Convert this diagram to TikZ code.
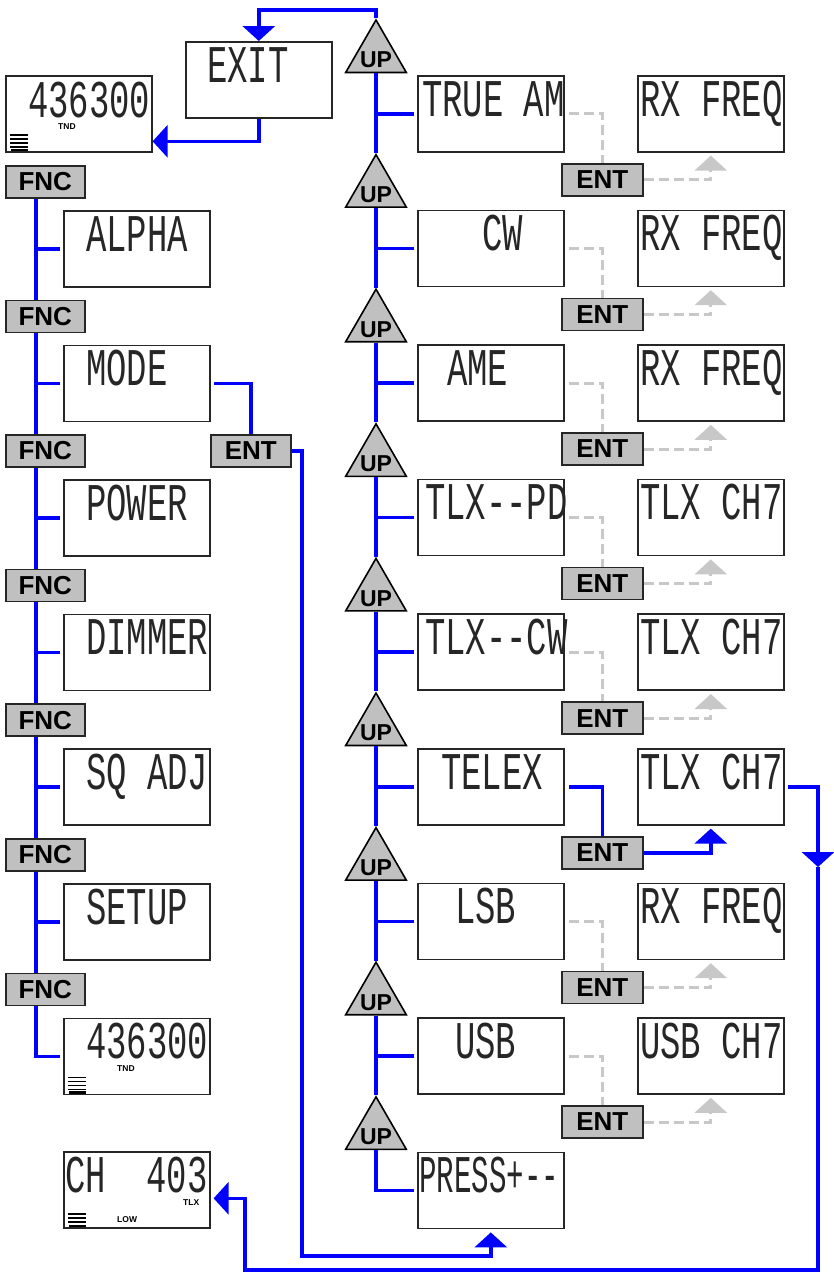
\documentclass[tikz,border=0pt]{standalone}
\usepackage{fontspec}
\usetikzlibrary{arrows.meta,shapes.geometric}
\setmainfont{Liberation Sans}
\newfontfamily\lcdfont[FakeStretch=0.64]{Liberation Mono}
\newfontfamily\lcdnarrow[FakeStretch=0.55]{Liberation Mono}
\definecolor{btn}{RGB}{192,192,192}
\definecolor{ghost}{RGB}{200,200,200}
\definecolor{flowblue}{RGB}{0,0,255}
\begin{document}
\begin{tikzpicture}[x=1pt,y=-1pt,
 disp/.style={draw=black!85, line width=1.6pt, minimum width=146pt, minimum height=76pt, inner sep=0pt, anchor=north west},
 btnbox/.style={draw=black!85, fill=btn, line width=1.6pt, minimum width=79pt, minimum height=32pt, inner sep=0pt, anchor=north west, font=\bfseries\fontsize{26}{26}\selectfont},
 upbtn/.style={regular polygon, regular polygon sides=3, draw=black, fill=btn, line width=1.6pt, minimum size=70pt, inner sep=0pt,
   label={[font=\bfseries\fontsize{23}{23}\selectfont, yshift=-5pt]center:UP}},
 lcd/.style={anchor=base west, inner sep=0pt, font=\lcdfont\fontsize{53}{53}\selectfont, text=black!85},
 lcdn/.style={anchor=base west, inner sep=0pt, font=\lcdnarrow\fontsize{53}{53}\selectfont, text=black!85},
 tinylbl/.style={anchor=base west, inner sep=0pt, font=\bfseries\fontsize{8.5}{8.5}\selectfont},
 flow/.style={draw=flowblue, line width=3.5pt},
 ghostline/.style={draw=ghost, line width=3pt, dash pattern=on 10pt off 5pt},
 tip/.style={-{Triangle[width=32pt,length=15pt]}},
 icon/.style={line width=1.1pt},
 iconbar/.style={line width=2.6pt},
]
\useasboundingbox (0,0) rectangle (834,1275);

% ---------- top area ----------
\node[disp] (dTop) at (5,75) {};
\node[lcd] (tTop) at (28,117) {436300};
\node[tinylbl] (tndTop) at (58,129.5) {TND};
\draw[icon] (10,135) -- (28,135) (10,139) -- (28,139) (10,143) -- (28,143) (10,147) -- (28,147);
\draw[iconbar] (11,150) -- (28,150);

\node[disp] (exit) at (185,41) {};
\node[lcd] (tExit) at (207,82) {EXIT};

% ---------- left column ----------
\foreach \i/\txt in {0/ALPHA,1/MODE,2/POWER,3/DIMMER,4/SQ ADJ,5/SETUP}{
  \node[btnbox] (fnc\i) at (5,{165+134.6*\i}) {FNC};
  \node[disp] (dL\i) at (63,{210+134.6*\i}) {};
  \node[lcd] (tL\i) at (86,{251+134.6*\i}) {\txt};
}
\node[btnbox] (fnc6) at (5,972.6) {FNC};
\node[disp] (dL6) at (63,1017.6) {};
\node[lcd] (tL6) at (86,1058.6) {436300};
\node[tinylbl] (tndL6) at (117,1071.5) {TND};
\draw[icon] (68,1077.5) -- (86,1077.5) (68,1081.5) -- (86,1081.5) (68,1085.5) -- (86,1085.5) (68,1089.5) -- (86,1089.5);
\draw[iconbar] (69,1092.5) -- (86,1092.5);

\node[btnbox, minimum width=80pt] (entL) at (210,434) {ENT};

\node[disp] (ch) at (63,1151) {};
\node[lcd] (tCh) at (65,1192) {CH~~403};
\node[tinylbl] (tlxCh) at (183,1205) {TLX};
\node[tinylbl] (lowCh) at (117,1222) {LOW};
\draw[icon] (68,1214) -- (86,1214) (68,1218) -- (86,1218) (68,1222) -- (86,1222);
\draw[iconbar] (69,1226) -- (86,1226);

% ---------- right column ----------
\foreach \j in {0,...,8}{
  \node[upbtn] (up\j) at (376,{55+134.6*\j}) {};
  \node[disp] (dR\j) at (417,{75+134.6*\j}) {};
}
\foreach \j/\x/\txt in {0/422/TRUE AM,1/482/CW,2/447/AME,3/425/TLX-{}-PD,4/425/TLX-{}-CW,5/441/TELEX,6/455/LSB,7/455/USB}{
  \node[lcd] (tR\j) at (\x,{116+134.6*\j}) {\txt};
}
\node[lcdn] (tR8) at (419,1192.8) {PRESS+-{}-};

\foreach \j/\txt in {0/RX FREQ,1/RX FREQ,2/RX FREQ,3/TLX CH7,4/TLX CH7,5/TLX CH7,6/RX FREQ,7/USB CH7}{
  \node[disp] (rr\j) at (637,{75+134.6*\j}) {};
  \node[lcd] (tRR\j) at (640,{116+134.6*\j}) {\txt};
  \node[btnbox, minimum width=81pt] (ent\j) at (561,{163+134.6*\j}) {ENT};
}

% ---------- connectors ----------
\coordinate (topY) at (0,10);
\draw[flow,tip] (up0.north) -- (up0.north |- topY) -| (exit.north);
\draw[flow,tip,shorten >=0pt] (exit.south) |- ([yshift=-27.5pt]dTop.east);

\coordinate (sL) at (36,0);
\foreach \i [evaluate=\i as \n using int(\i+1)] in {0,...,5}{
  \draw[flow] (fnc\i.south -| sL) -- (fnc\n.north -| sL);
  \draw[flow] (dL\i.west -| sL) -- ([xshift=-3pt]dL\i.west);
}
\draw[flow] (fnc6.south -| sL) |- ([xshift=-3pt]dL6.west);

\foreach \j [evaluate=\j as \n using int(\j+1)] in {0,...,7}{
  \draw[flow] (up\j.south) -- (up\n.north);
  \draw[flow] (dR\j.west -| up\j.south) -- ([xshift=-3pt]dR\j.west);
}
\draw[flow] (up8.south) |- ([xshift=-3pt]dR8.west);

\draw[flow] ([xshift=3pt]dL1.east) -| (entL.north);
\coordinate (c1) at (302,1256);
\draw[flow,tip,shorten >=3pt] (entL.east) -| (c1) -| (dR8.south);

\foreach \j in {0,1,2,3,4,6,7}{
  \draw[ghostline] ([xshift=4pt]dR\j.east) -| (ent\j.north);
  \draw[ghostline,tip,shorten >=3pt] (ent\j.east) -| (rr\j.south);
}
\draw[flow] ([xshift=4pt]dR5.east) -| (ent5.north);
\draw[flow,tip,shorten >=3pt] (ent5.east) -| (rr5.south);

\coordinate (c2) at (818,867);
\coordinate (c3) at (245,1270);
\draw[flow,tip] ([xshift=3pt]rr5.east) -| (c2);
\draw[flow,tip,shorten >=3pt] (c2) |- (c3) |- ([yshift=-8.5pt]ch.east);
\end{tikzpicture}
\end{document}
